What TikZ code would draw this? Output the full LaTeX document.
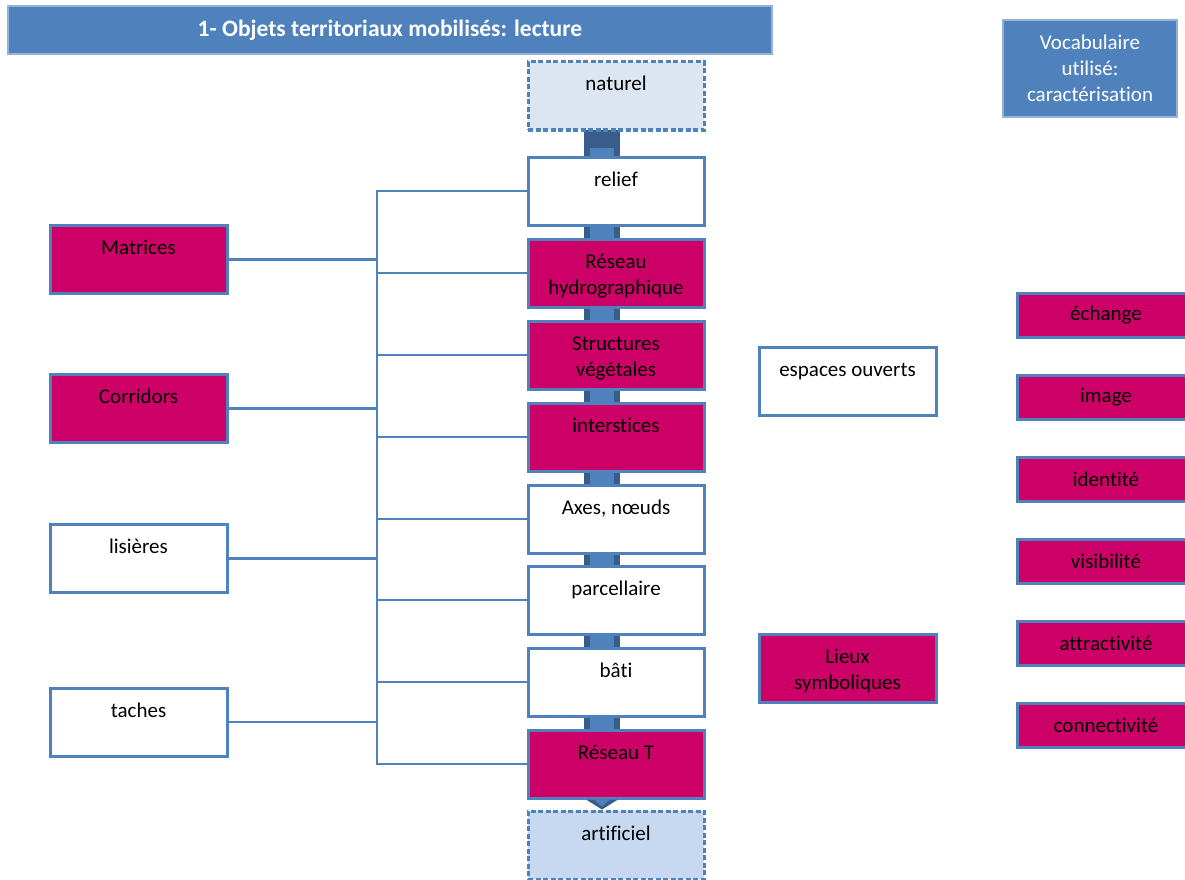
\documentclass[tikz,border=0pt]{standalone}
\usepackage{fontspec}
\setmainfont[Ligatures=NoCommon]{Carlito}
\usetikzlibrary{calc}
\definecolor{bl}{RGB}{79,129,189}
\definecolor{dbl}{RGB}{56,93,138}
\definecolor{mag}{RGB}{204,0,102}
\definecolor{nat}{RGB}{220,230,242}
\definecolor{art}{RGB}{198,217,241}
\definecolor{hbd}{RGB}{149,179,215}
\newcommand\tx[1]{\parbox[t]{170pt}{\centering #1}}
\tikzset{
  every node/.style={font=\fontsize{21}{26}\selectfont, inner sep=0pt},
  tbox/.style={draw=bl, line width=3pt, minimum width=176pt, minimum height=68pt, text height=29pt, text depth=39pt, fill=white},
  wbox/.style={tbox},
  mbox/.style={tbox, fill=mag},
  dbox/.style={tbox, dashed, dash pattern=on 5pt off 2.5pt},
  sbox/.style={draw=bl, fill=mag, line width=3pt, minimum width=178pt, minimum height=44pt},
  hbox/.style={fill=bl, draw=hbd, line width=1.2pt, text=white},
  conn/.style={draw=bl, line width=2.8pt}
}
\begin{document}
\begin{tikzpicture}[x=1pt,y=-1pt]
\clip (0,0) rectangle (1185,880);
\fill[white] (0,0) rectangle (1185,880);
% header
\node[hbox, minimum width=764pt, minimum height=48pt, font=\fontsize{23.5}{28}\selectfont\bfseries] (title) at (390,30) {1- Objets territoriaux mobilisés: lecture};
\node[hbox, minimum width=174pt, minimum height=97pt, align=center] (vocab) at (1090,68.5) {Vocabulaire\\utilisé:\\caractérisation};
% big arrow shaft behind the column
\coordinate (sa) at (602,130);
\coordinate (sb) at (602,798);
\fill[dbl] ($(sa)+(-18,0)$) rectangle ($(sb)+(18,0)$);
\fill[bl] ($(sa)+(-12,18)$) rectangle ($(sb)+(12,0)$);
% central column
\node[dbox, fill=nat] (naturel) at (616,96) {\tx{naturel}};
\node[wbox] (relief) at (616,191) {\tx{relief}};
\node[mbox] (hydro) at (616,273) {\tx{Réseau\\hydrographique}};
\node[mbox] (veget) at (616,355) {\tx{Structures\\végétales}};
\node[mbox] (inter) at (616,437) {\tx{interstices}};
\node[wbox] (axes) at (616,519) {\tx{Axes, nœuds}};
\node[wbox] (parc) at (616,600) {\tx{parcellaire}};
\node[wbox] (bati) at (616,682) {\tx{bâti}};
\node[mbox] (reseauT) at (616,764) {\tx{Réseau T}};
\node[dbox, fill=art] (artif) at (616,845) {\tx{artificiel}};
% arrow head
\fill[dbl] ($(reseauT.south)+(-30,0)$) -- ($(reseauT.south)+(2,0)$) -- ($(artif.north)+(-14,0)$) -- cycle;
\fill[bl] ($(reseauT.south)+(-22,0)$) -- ($(reseauT.south)+(-6,0)$) -- ($(reseauT.south)+(-14,7)$) -- cycle;
% left column
\node[mbox, minimum width=177pt] (matrices) at (138.5,259.5) {\tx{Matrices}};
\node[mbox, minimum width=177pt] (corridors) at (138.5,408.5) {\tx{Corridors}};
\node[wbox, minimum width=177pt] (lisieres) at (138.5,558.5) {\tx{lisières}};
\node[wbox, minimum width=177pt] (taches) at (138.5,722) {\tx{taches}};
% right middle
\node[wbox, minimum width=177pt] (espaces) at (847.5,381.5) {\tx{espaces ouverts}};
\node[mbox, minimum width=177pt] (lieux) at (847.5,668) {\tx{Lieux\\symboliques}};
% far right
\node[sbox] (echange) at (1106,315) {échange};
\node[sbox] (image) at (1106,397) {image};
\node[sbox] (identite) at (1106,479) {identité};
\node[sbox] (visib) at (1106,561) {visibilité};
\node[sbox] (attract) at (1106,643) {attractivité};
\node[sbox] (connect) at (1106,725) {connectivité};
% trunk connectors
\coordinate (tx) at (377,0);
\draw[conn] (relief.west) -- (relief.west -| tx) -- (reseauT.west -| tx) -- (reseauT.west);
\foreach \n in {hydro,veget,inter,axes,parc,bati}{
  \draw[conn] (\n.west) -- (\n.west -| tx);
}
\foreach \n in {matrices,corridors,lisieres,taches}{
  \draw[conn] (\n.east) -- (\n.east -| tx);
}
\end{tikzpicture}
\end{document}
